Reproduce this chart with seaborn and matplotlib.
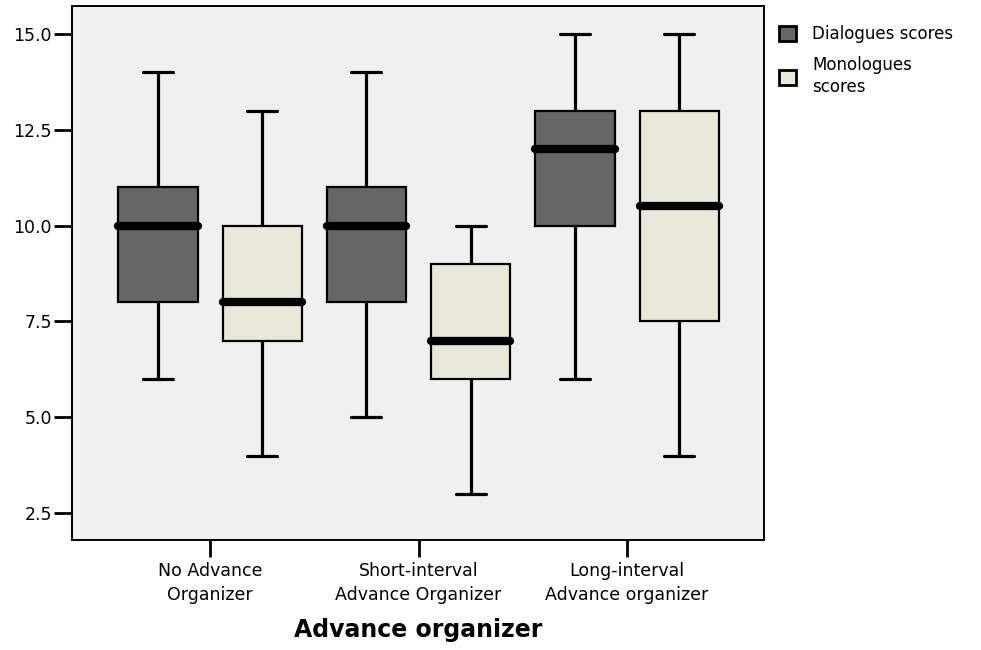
import matplotlib
matplotlib.use("Agg")
import matplotlib.pyplot as plt
import seaborn as sns
import pandas as pd
from matplotlib.patches import Patch

groups = ["No Advance\nOrganizer", "Short-interval\nAdvance Organizer", "Long-interval\nAdvance organizer"]
measures = ["Dialogues scores", "Monologues scores"]
# five-number summaries: min, Q1, median, Q3, max
dialogues = [[6, 8, 10, 11, 14], [5, 8, 10, 11, 14], [6, 10, 12, 13, 15]]
monologues = [[4, 7, 8, 10, 13], [3, 6, 7, 9, 10], [4, 7.5, 10.5, 13, 15]]
yticks = [2.5, 5.0, 7.5, 10.0, 12.5, 15.0]

rows = []
for g, d, m in zip(groups, dialogues, monologues):
    for v in d:
        rows.append((g, measures[0], v))
    for v in m:
        rows.append((g, measures[1], v))
df = pd.DataFrame(rows, columns=["group", "measure", "score"])

sns.set_style("white")
plt.rcParams['font.family'] = ['DejaVu Sans']
plt.rcParams['text.color'] = 'black'
plt.rcParams['xtick.color'] = 'black'
plt.rcParams['ytick.color'] = 'black'
plt.rcParams['axes.labelcolor'] = 'black'

fig = plt.figure(figsize=(9.81, 6.5), dpi=100)
ax = fig.add_axes([72/981, 1-540/650, (764-72)/981, (540-6)/650])
ax.set_facecolor("#F0F0F0")

colors = {"Dialogues scores": "#666666", "Monologues scores": "#ECE9D9"}
sns.boxplot(data=df, x="group", y="score", hue="measure", order=groups,
            hue_order=measures, palette=colors, whis=(0, 100), width=1.0, gap=0.24,
            linecolor="black", linewidth=2.2, legend=False, ax=ax,
            boxprops=dict(linewidth=1.6, edgecolor="black"),
            medianprops=dict(color="black", linewidth=6, solid_capstyle="round"),
            whiskerprops=dict(linewidth=2.3), capprops=dict(linewidth=2.3),
            capwidths=0.144)

ax.set_xlim(-0.662, 2.657)
ax.set_ylim(1.80, 15.73)
ax.set_yticks(yticks)
ax.set_yticklabels([f"{t:.1f}" for t in yticks], fontsize=12.5)
ax.set_xticks(range(len(groups)))
ax.set_xticklabels(groups, fontsize=12.5, linespacing=1.4)
ax.tick_params(axis="y", length=13, width=2, pad=1.5, direction="out", left=True)
ax.tick_params(axis="x", length=12, width=2, pad=4, direction="out", bottom=True)
ax.set_ylabel("")
ax.set_xlabel("Advance organizer", fontsize=17, fontweight="bold", labelpad=10)
for s in ax.spines.values():
    s.set_visible(True)
    s.set_linewidth(1.4)
    s.set_color("black")

handles = [Patch(facecolor=colors[m], edgecolor="black", linewidth=2) for m in measures]
fig.legend(handles, ["Dialogues scores", "Monologues\nscores"], loc="upper left",
           bbox_to_anchor=(764/981, 1-10/650), frameon=False,
           handlelength=1.0, handleheight=1.0, handletextpad=1.0, labelspacing=0.8,
           prop={'size': 12, 'family': 'DejaVu Sans'})
for t in fig.legends[0].get_texts():
    t.set_linespacing(1.25)

fig.savefig("out.png", dpi=100)
